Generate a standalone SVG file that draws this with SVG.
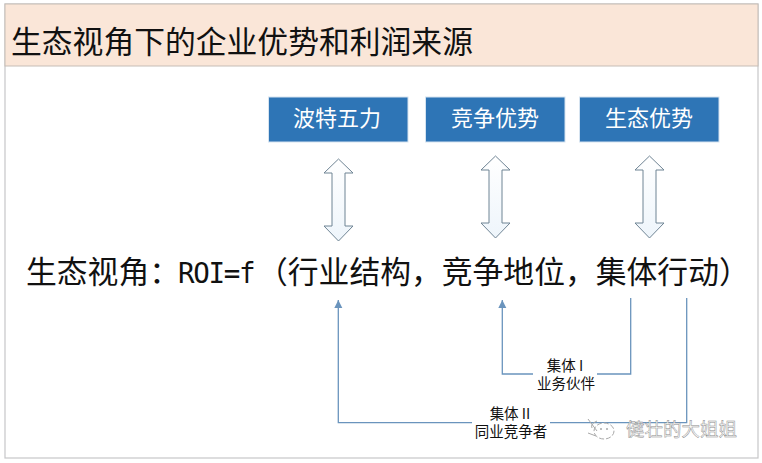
<svg xmlns="http://www.w3.org/2000/svg" width="762" height="463" viewBox="0 0 762 463">
<defs>
<marker id="tip" markerWidth="10" markerHeight="10" refX="8" refY="4.500" orient="auto" markerUnits="userSpaceOnUse"><path d="M0 0.500L8 4.500L0 8.500Z" fill="#6a94bd"/></marker>
<linearGradient id="dbl" x1="0" y1="0" x2="0" y2="1"><stop offset="0" stop-color="#fff"/><stop offset="1" stop-color="#eef5fb"/></linearGradient>
<path id="dblarrow" d="M0 0L14.500 14L6.500 14L6.500 67L14.500 67L0 82L-14.500 67L-6.500 67L-6.500 14L-14.500 14Z" fill="url(#dbl)" stroke="#6f8494" stroke-width="1"/>
</defs>
<style>
text{font-family:"Noto Sans CJK SC","Liberation Sans",sans-serif}
.box{fill:#2e75b6;stroke:#d5e3f0;stroke-width:1}
.bt{fill:#fff;font-size:22px;text-anchor:middle}
.lab{fill:#111;font-size:14.500px;text-anchor:middle}
.con{fill:none;stroke:#6a94bd;stroke-width:1.300}
.wm{fill:none;stroke:#a8a8a8;stroke-width:1}
</style>
<rect width="762" height="463" fill="#fff"/>
<g id="frame">
<rect x="5" y="4" width="753" height="454" fill="#fff" stroke="#c6c6c8" stroke-width="1.200"/>
</g>
<g id="title">
<rect x="5" y="4" width="753" height="62" fill="#fae6d8" stroke="#c6bdb6" stroke-width="1"/>
<text x="11" y="53" font-size="30.800" fill="#111">生态视角下的企业优势和利润来源</text>
</g>
<g id="n1"><rect class="box" x="268.500" y="97" width="139.500" height="45"/><text class="bt" x="337" y="126">波特五力</text></g>
<g id="n2"><rect class="box" x="425.500" y="97" width="139.500" height="45"/><text class="bt" x="495" y="126">竞争优势</text></g>
<g id="n3"><rect class="box" x="579.500" y="97" width="139.500" height="45"/><text class="bt" x="649" y="126">生态优势</text></g>
<g id="a1"><use href="#dblarrow" x="338.500" y="159"/></g>
<g id="a2"><use href="#dblarrow" x="495.500" y="156"/></g>
<g id="a3"><use href="#dblarrow" x="649.500" y="156"/></g>
<g id="formula"><text x="26" y="283" font-size="30.800" fill="#111">生态视角：<tspan x="178" font-family="'DejaVu Sans Mono',monospace" font-size="27.500" letter-spacing="-1.300">ROI=f</tspan><tspan x="257">（行业结构，竞争地位，集体行动）</tspan></text></g>
<g id="connectors">
<path class="con" marker-end="url(#tip)" d="M630.700 298V374H502.300V300"/>
<path class="con" marker-end="url(#tip)" d="M686.700 298V422.700H338.300V300"/>
</g>
<g id="l1"><rect x="533" y="358" width="64" height="34" fill="#fff"/><text class="lab" y="371"><tspan x="565">集体 I</tspan><tspan x="566" y="389">业务伙伴</tspan></text></g>
<g id="l2"><rect x="472" y="406" width="78" height="34" fill="#fff"/><text class="lab" y="419"><tspan x="510">集体 II</tspan><tspan x="511" y="437">同业竞争者</tspan></text></g>
<g id="watermark">
<ellipse cx="604" cy="431" rx="10" ry="8" class="wm" style="fill:#fff" stroke-dasharray="5 2"/>
<path class="wm" d="M588 419L597 431M588 433L596 436M597 421Q590 424 592 428"/>
<circle cx="601" cy="429" r="1" fill="#a8a8a8"/><circle cx="607" cy="429" r="1" fill="#a8a8a8"/>
<text x="626" y="436" font-size="18.500" fill="#fafafa" stroke="#8a8a8a" stroke-width="0.450">健壮的大姐姐</text>
</g>
</svg>
